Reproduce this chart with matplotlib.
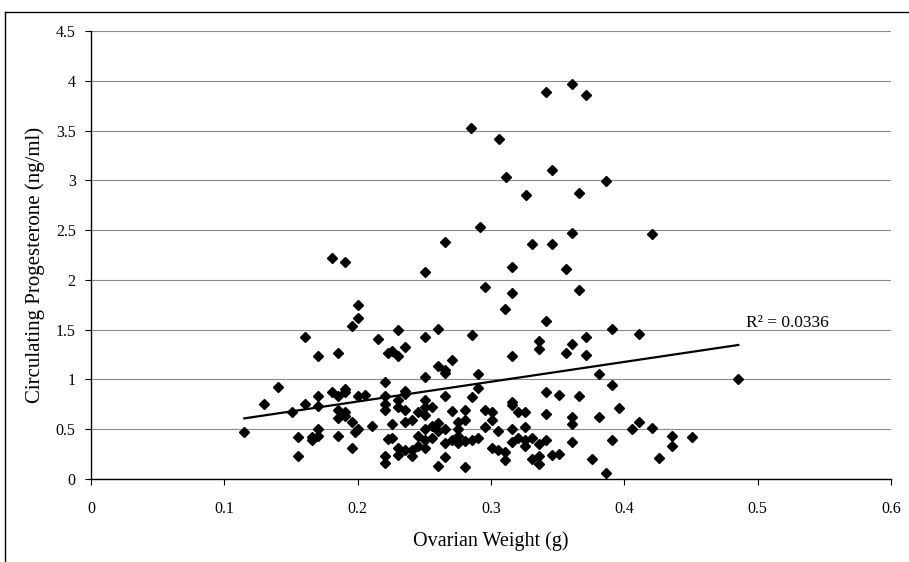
"""Gráfica de progesterona circulante contra peso ovárico."""
import matplotlib
matplotlib.use('Agg')
import matplotlib.pyplot as plt
from matplotlib.lines import Line2D

# Peso ovárico (g)
peso = [
    0.1805, 0.1905, 0.2005, 0.2005, 0.1955, 0.1605, 0.2155, 0.1705, 0.1855,
    0.140, 0.1298, 0.115, 0.1505, 0.1605, 0.1705, 0.1705, 0.1805, 0.1855,
    0.1905, 0.1905, 0.1855, 0.1855, 0.1905, 0.1905, 0.188, 0.2005, 0.2055,
    0.2205, 0.2205, 0.2205, 0.2205, 0.1955, 0.2005, 0.198, 0.2105, 0.1955,
    0.1555, 0.1555, 0.1655, 0.1655, 0.1705, 0.1705, 0.1855, 0.223, 0.223,
    0.2205, 0.2205,
    0.292, 0.2655, 0.2505, 0.3155, 0.2955, 0.3155, 0.3105, 0.2305, 0.2605,
    0.2505, 0.2855, 0.2255, 0.2305, 0.2355, 0.2705, 0.2605, 0.2655, 0.2655,
    0.3155, 0.2505, 0.2905, 0.2355, 0.2355, 0.2305, 0.2305, 0.2505, 0.2505,
    0.2355, 0.2655, 0.2905, 0.2855, 0.2255, 0.2455, 0.2505, 0.2555, 0.2705,
    0.2805, 0.2955, 0.3005, 0.3005, 0.2355, 0.2405, 0.2605, 0.2755, 0.2805,
    0.2505, 0.2555, 0.2605, 0.2655, 0.2755, 0.2955, 0.3055, 0.3155, 0.3255,
    0.2255, 0.2455, 0.2505, 0.2555, 0.2705, 0.2755, 0.2805, 0.2855, 0.2905,
    0.2655, 0.2755, 0.2305, 0.2355, 0.2405, 0.2455, 0.2505, 0.2305, 0.2405,
    0.3005, 0.3055, 0.3105, 0.3105, 0.3155, 0.3205, 0.3255, 0.3255, 0.2605,
    0.2655, 0.2805, 0.3155, 0.3155, 0.3205, 0.3255,
    0.3605, 0.4205, 0.331, 0.346, 0.356, 0.366, 0.341, 0.391, 0.411, 0.371,
    0.336, 0.336, 0.361, 0.356, 0.371, 0.381, 0.4855, 0.391, 0.341, 0.351,
    0.366, 0.341, 0.361, 0.361, 0.381, 0.396, 0.411, 0.406, 0.421, 0.436,
    0.436, 0.451, 0.331, 0.341, 0.336, 0.361, 0.391, 0.331, 0.336, 0.336,
    0.346, 0.351, 0.376, 0.426, 0.386,
    0.361, 0.341, 0.371, 0.306, 0.346, 0.311, 0.386, 0.326, 0.366, 0.285,
]

# Progesterona circulante (ng/ml)
progesterona = [
    2.218, 2.178, 1.749, 1.615, 1.541, 1.43, 1.407, 1.239, 1.263,
    0.921, 0.754, 0.469, 0.676, 0.754, 0.837, 0.737, 0.871, 0.837,
    0.905, 0.87, 0.693, 0.61, 0.676, 0.63, 0.65, 0.837, 0.844,
    0.972, 0.83, 0.754, 0.69, 0.57, 0.50, 0.47, 0.536, 0.308,
    0.419, 0.234, 0.419, 0.39, 0.50, 0.43, 0.435, 1.27, 0.40,
    0.23, 0.16,
    2.53, 2.385, 2.083, 2.134, 1.933, 1.866, 1.709, 1.497, 1.507,
    1.424, 1.447, 1.29, 1.239, 1.323, 1.196, 1.139, 1.095, 1.06,
    1.239, 1.028, 1.055, 0.888, 0.85, 0.794, 0.727, 0.794, 0.727,
    0.69, 0.837, 0.911, 0.827, 0.553, 0.676, 0.643, 0.72, 0.687,
    0.693, 0.693, 0.676, 0.593, 0.57, 0.593, 0.56, 0.57, 0.593,
    0.50, 0.53, 0.48, 0.50, 0.50, 0.526, 0.486, 0.50, 0.526,
    0.409, 0.435, 0.39, 0.409, 0.39, 0.436, 0.383, 0.39, 0.409,
    0.36, 0.36, 0.31, 0.29, 0.29, 0.33, 0.31, 0.24, 0.23,
    0.31, 0.29, 0.27, 0.19, 0.376, 0.41, 0.39, 0.33, 0.134,
    0.22, 0.117, 0.777, 0.745, 0.67, 0.67,
    2.475, 2.459, 2.36, 2.36, 2.11, 1.90, 1.588, 1.507, 1.454, 1.424,
    1.39, 1.31, 1.357, 1.263, 1.246, 1.052, 1.005, 0.945, 0.871, 0.844,
    0.837, 0.653, 0.627, 0.553, 0.627, 0.71, 0.576, 0.503, 0.509, 0.435,
    0.335, 0.425, 0.409, 0.39, 0.348, 0.375, 0.396, 0.20, 0.234, 0.15,
    0.24, 0.247, 0.20, 0.207, 0.057,
    3.97, 3.886, 3.859, 3.417, 3.105, 3.032, 2.995, 2.854, 2.871, 3.53,
]

# Recta de tendencia
pendiente = 1.99
intercepto = 0.38
r2_texto = 'R² = 0.0336'

# Marcas de los ejes
x_ticks = [0, 0.1, 0.2, 0.3, 0.4, 0.5, 0.6]
x_etiquetas = ['0', '0.1', '0.2', '0.3', '0.4', '0.5', '0.6']
y_ticks = [0, 0.5, 1, 1.5, 2, 2.5, 3, 3.5, 4, 4.5]
y_etiquetas = ['0', '0.5', '1', '1.5', '2', '2.5', '3', '3.5', '4', '4.5']

plt.rcParams['font.family'] = ['Liberation Serif', 'DejaVu Serif']

fig = plt.figure(figsize=(9.09, 5.62), dpi=100)
ax = fig.add_axes([0.1001, 0.1477, 0.8801, 0.7972])

# Puntos de los datos
ax.plot(peso, progesterona, 'D', color='black', markersize=5.5,
        linestyle='none', zorder=3)

# Recta de tendencia
x_min = min(peso)
x_max = max(peso)
ax.plot([x_min, x_max],
        [intercepto + pendiente * x_min, intercepto + pendiente * x_max],
        color='black', linewidth=1.6, zorder=4)
ax.text(0.4913, 1.53, r2_texto, fontsize=12.5, va='baseline')

# Ejes
ax.set_xlim(0, 0.6)
ax.set_ylim(0, 4.5)
ax.set_xticks(x_ticks)
ax.set_xticklabels(x_etiquetas)
ax.set_yticks(y_ticks)
ax.set_yticklabels(y_etiquetas)
ax.yaxis.grid(True, color='#8a8a8a', linewidth=0.8)
ax.set_axisbelow(True)
for lado in ['top', 'right']:
    ax.spines[lado].set_visible(False)
for lado in ['left', 'bottom']:
    ax.spines[lado].set_linewidth(1.0)
ax.tick_params(axis='both', direction='out', length=4, width=0.8,
               labelsize=11.5)
ax.tick_params(axis='x', pad=12)
ax.tick_params(axis='y', pad=7)
ax.set_xlabel('Ovarian Weight (g)', fontsize=14.5, labelpad=10)
ax.set_ylabel('Circulating Progesterone (ng/ml)', fontsize=15, labelpad=5)
ax.yaxis.set_label_coords(-0.058, 0.478)

# Marco de la figura
fig.add_artist(Line2D([0.0055, 0.0055], [0.0, 0.9786],
                      transform=fig.transFigure, color='black', lw=1))
fig.add_artist(Line2D([0.0055, 1.0], [0.9786, 0.9786],
                      transform=fig.transFigure, color='black', lw=1))

fig.savefig('out.png', dpi=100)
